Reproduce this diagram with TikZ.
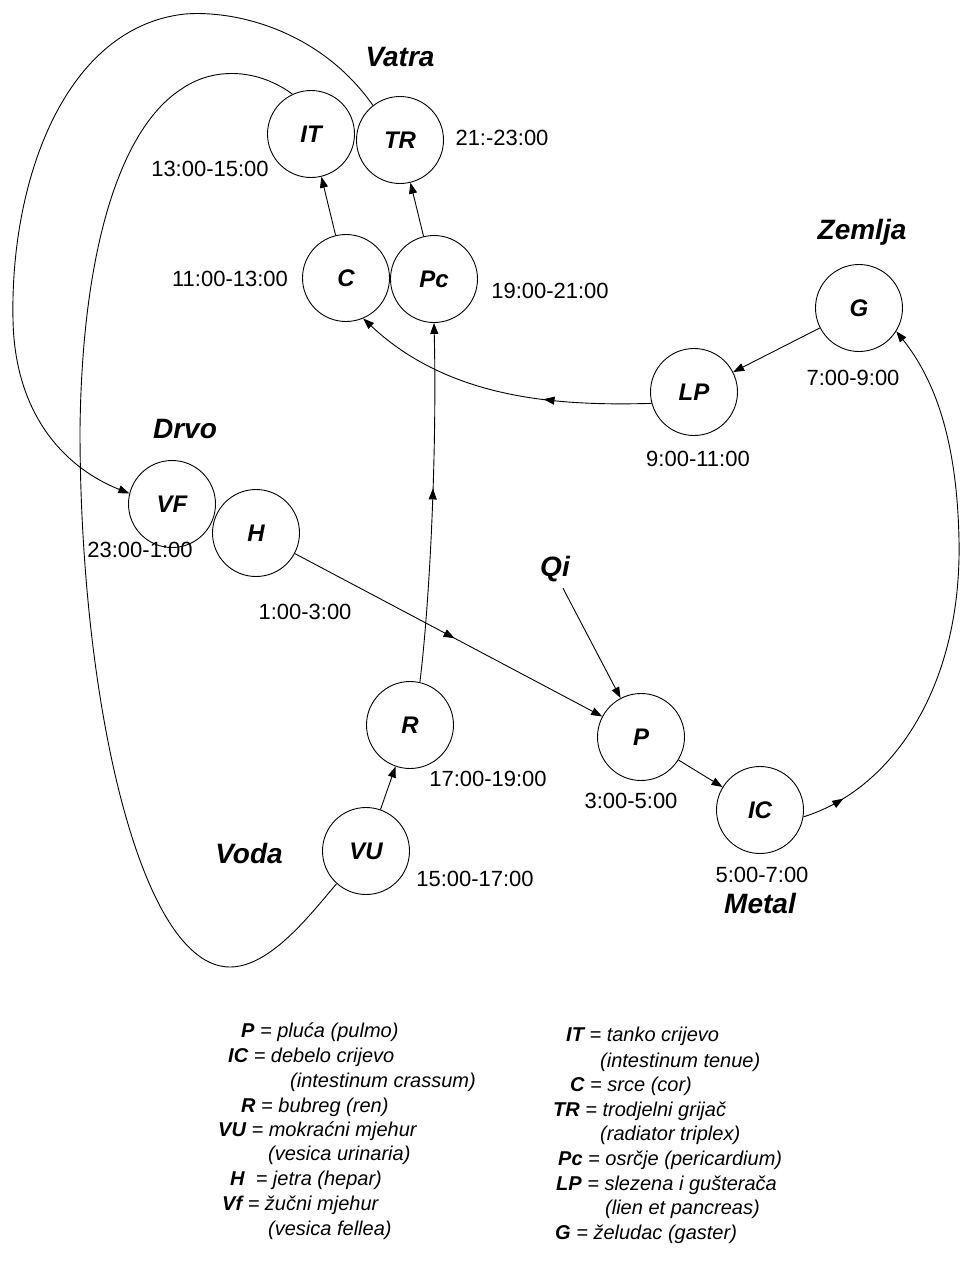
\documentclass[tikz,border=0pt]{standalone}
\usepackage{fontspec}
\setmainfont{Liberation Sans}
\usetikzlibrary{arrows.meta,decorations.markings}
\begin{document}
\begin{tikzpicture}[x=1pt,y=-1pt,
  organ/.style={draw, circle, minimum size=87pt, inner sep=0pt, line width=0.9pt, font=\fontsize{24}{24}\selectfont\bfseries\itshape},
  elem/.style={font=\fontsize{28}{28}\selectfont\bfseries\itshape, text height=0.72em, text depth=0pt, inner sep=0pt},
  time/.style={font=\fontsize{22}{22}\selectfont, text height=0.72em, text depth=0pt, inner sep=0pt},
  leg/.style={anchor=base west, inner sep=0pt, font=\fontsize{20}{20}\selectfont\itshape},
  conn/.style={line width=0.9pt},
  tip/.style={-{Triangle[length=11pt,width=8pt]}},
  midarrow/.style={postaction={decorate}, decoration={markings, mark=at position #1 with {\arrow{Triangle[length=11pt,width=8pt]}}}}
]
\fill[white] (0,0) rectangle (961,1264);
\useasboundingbox (0,0) rectangle (961,1264);

% organs
\node[organ] (IT) at (311,134) {IT};
\node[organ] (TR) at (400,140) {TR};
\node[organ] (C) at (346,278) {C};
\node[organ] (Pc) at (434,279) {Pc};
\node[organ] (G) at (859,308) {G};
\node[organ] (LP) at (694,392) {LP};
\node[organ] (VF) at (172,504) {VF};
\node[organ] (H) at (256,533) {H};
\node[organ] (R) at (410,725) {R};
\node[organ] (P) at (641,737) {P};
\node[organ] (IC) at (760,810) {IC};
\node[organ] (VU) at (366,851) {VU};

% elements
\node[elem] (vatra) at (400,63) {Vatra};
\node[elem] (zemlja) at (862,236) {Zemlja};
\node[elem] (drvo) at (185,435) {Drvo};
\node[elem] (qi) at (555,573) {Qi};
\node[elem] (voda) at (249,860) {Voda};
\node[elem] (metal) at (760,910) {Metal};

% times
\node[time] (t1) at (210,173) {13:00-15:00};
\node[time] (t2) at (502,142) {21:-23:00};
\node[time] (t3) at (230,283) {11:00-13:00};
\node[time] (t4) at (550,295) {19:00-21:00};
\node[time] (t5) at (853,382) {7:00-9:00};
\node[time] (t6) at (698,463) {9:00-11:00};
\node[time] (t7) at (140,554) {23:00-1:00};
\node[time] (t8) at (305,616) {1:00-3:00};
\node[time] (t9) at (488,783) {17:00-19:00};
\node[time] (t10) at (631,805) {3:00-5:00};
\node[time] (t11) at (475,883) {15:00-17:00};
\node[time] (t12) at (762,879) {5:00-7:00};

% connectors
\draw[conn,tip] (C) -- (IT);
\draw[conn,tip] (Pc) -- (TR);
\draw[conn,tip] (G) -- (LP);
\draw[conn,tip] (VU) -- (R);
\draw[conn,tip] (P) -- (IC);
\draw[conn,tip,midarrow=0.52] (H) -- (P);
\draw[conn,tip,shorten <=13pt] (qi) -- (P);
\draw[conn,tip,midarrow=0.54] (R.77) .. controls (430,600) and (437,450) .. (Pc.south);
\draw[conn,tip,midarrow=0.35] (LP.195) .. controls (560,406) and (450,400) .. (C.293);
\draw[conn,tip,midarrow=44pt] (IC.-9) .. controls (890,790) and (962,690) .. (959,540) .. controls (957,440) and (935,380) .. (G.-32);
\draw[conn,tip] (TR.128) .. controls (320,30) and (235,10) .. (185,14) .. controls (65,27) and (10,180) .. (13,320) .. controls (15,420) and (70,470) .. (VF.166);
\draw[conn] (IT.115) .. controls (260,70) and (215,65) .. (180,90) .. controls (120,130) and (82,250) .. (80,430) .. controls (80,700) and (140,967) .. (230,967) .. controls (270,967) and (310,915) .. (VU.228);

% legend left
\node[leg] (l1) at (241,1037) {\textbf{P} = pluća (pulmo)};
\node[leg] (l2) at (228,1062) {\textbf{IC} = debelo crijevo};
\node[leg] (l3) at (290,1087) {(intestinum crassum)};
\node[leg] (l4) at (241,1112) {\textbf{R} = bubreg (ren)};
\node[leg] (l5) at (218,1136) {\textbf{VU} = mokraćni mjehur};
\node[leg] (l6) at (268,1160) {(vesica urinaria)};
\node[leg] (l7) at (230,1185) {\textbf{H}\ \ = jetra (hepar)};
\node[leg] (l8) at (222,1210) {\textbf{Vf} = žučni mjehur};
\node[leg] (l9) at (268,1235) {(vesica fellea)};
% legend right
\node[leg] (r1) at (566,1041) {\textbf{IT} = tanko crijevo};
\node[leg] (r2) at (600,1067) {(intestinum tenue)};
\node[leg] (r3) at (570,1091) {\textbf{C} = srce (cor)};
\node[leg] (r4) at (553,1116) {\textbf{TR} = trodjelni grijač};
\node[leg] (r5) at (600,1140) {(radiator triplex)};
\node[leg] (r6) at (558,1165) {\textbf{Pc} = osrčje (pericardium)};
\node[leg] (r7) at (556,1190) {\textbf{LP} = slezena i gušterača};
\node[leg] (r8) at (605,1214) {(lien et pancreas)};
\node[leg] (r9) at (555,1239) {\textbf{G} = želudac (gaster)};
\end{tikzpicture}
\end{document}
